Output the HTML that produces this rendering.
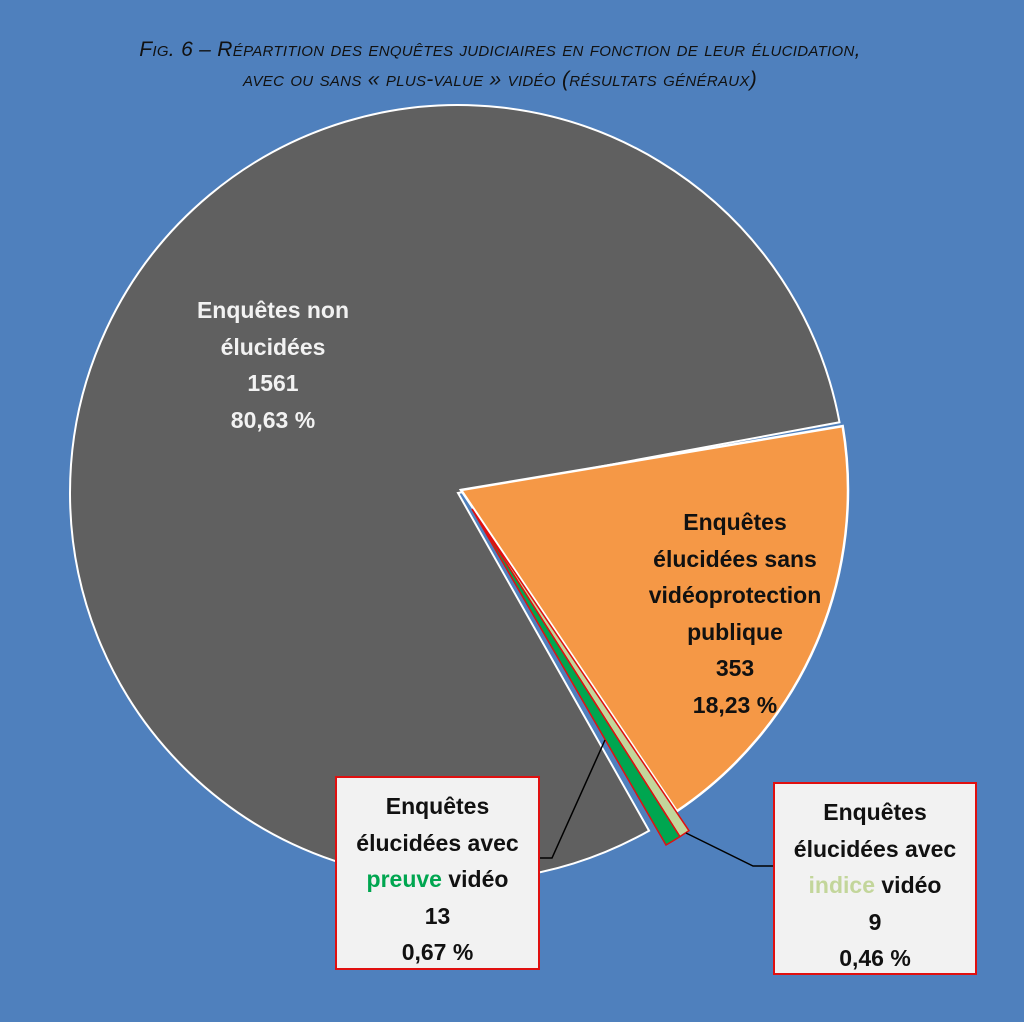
<!DOCTYPE html>
<html><head><meta charset="utf-8"><style>
html,body{margin:0;padding:0;background:#4f80bd;}
body{width:1024px;height:1022px;position:relative;overflow:hidden;font-family:"Liberation Sans Narrow","Liberation Sans",sans-serif;}
.t{position:absolute;left:0;width:1000px;text-align:center;font-style:italic;font-variant:small-caps;font-size:21px;color:#111;letter-spacing:0.3px}
.lab{position:absolute;text-align:center;font-weight:bold;font-size:23px;line-height:36.5px;}
.box{position:absolute;background:#f2f2f2;border:2px solid #e01010;box-sizing:border-box;text-align:center;font-weight:bold;font-size:23px;line-height:36.5px;color:#111;padding-top:10px}
</style></head><body>
<div class="t" style="top:38px;">Fig. 6 – Répartition des enquêtes judiciaires en fonction de leur élucidation,</div>
<div class="t" style="top:68px;">avec ou sans « plus-value » vidéo (résultats généraux)</div>
<svg id="s" width="1024" height="1022" style="position:absolute;left:0;top:0"></svg>
<div class="lab" style="left:150px;top:292px;width:246px;color:#f2f2f2;">Enquêtes non<br>élucidées<br>1561<br>80,63 %</div>
<div class="lab" style="left:630px;top:504px;width:210px;color:#111;">Enquêtes<br>élucidées sans<br>vidéoprotection<br>publique<br>353<br>18,23 %</div>
<div class="box" style="left:335px;top:776px;width:205px;height:194px;">Enquêtes<br>élucidées avec<br><span style="color:#00a650">preuve</span> vidéo<br>13<br>0,67 %</div>
<div class="box" style="left:773px;top:782px;width:204px;height:193px;">Enquêtes<br>élucidées avec<br><span style="color:#c3d69b">indice</span> vidéo<br>9<br>0,46 %</div>
<script>
function p(cx,cy,r,a1,a2){var R=Math.PI/180;var x1=cx+r*Math.cos(a1*R),y1=cy+r*Math.sin(a1*R),x2=cx+r*Math.cos(a2*R),y2=cy+r*Math.sin(a2*R);var l=(a2-a1)>180?1:0;return "M"+cx+","+cy+"L"+x1+","+y1+"A"+r+","+r+" 0 "+l+" 1 "+x2+","+y2+"Z";}
var s='';
s+='<path d="'+p(458,493,388,60.5,349.5)+'" fill="#606060" stroke="#fff" stroke-width="2"/>';
s+='<path d="'+p(461,490,387,-9.5,56.1)+'" fill="#f59846" stroke="#fff" stroke-width="2.5"/>';
s+='<path d="'+p(472,509,388,56,57.6)+'" fill="#c3d69b" stroke="#e01010" stroke-width="1.5"/>';
s+='<path d="'+p(472,509,388,57.6,60)+'" fill="#00a650" stroke="#e01010" stroke-width="1.5"/>';
s+='<polyline points="605,740 552,858 540,858" fill="none" stroke="#000" stroke-width="1.5"/>';
s+='<polyline points="686,833 753,866 773,866" fill="none" stroke="#000" stroke-width="1.5"/>';
document.getElementById('s').innerHTML=s;
</script>
</body></html>
